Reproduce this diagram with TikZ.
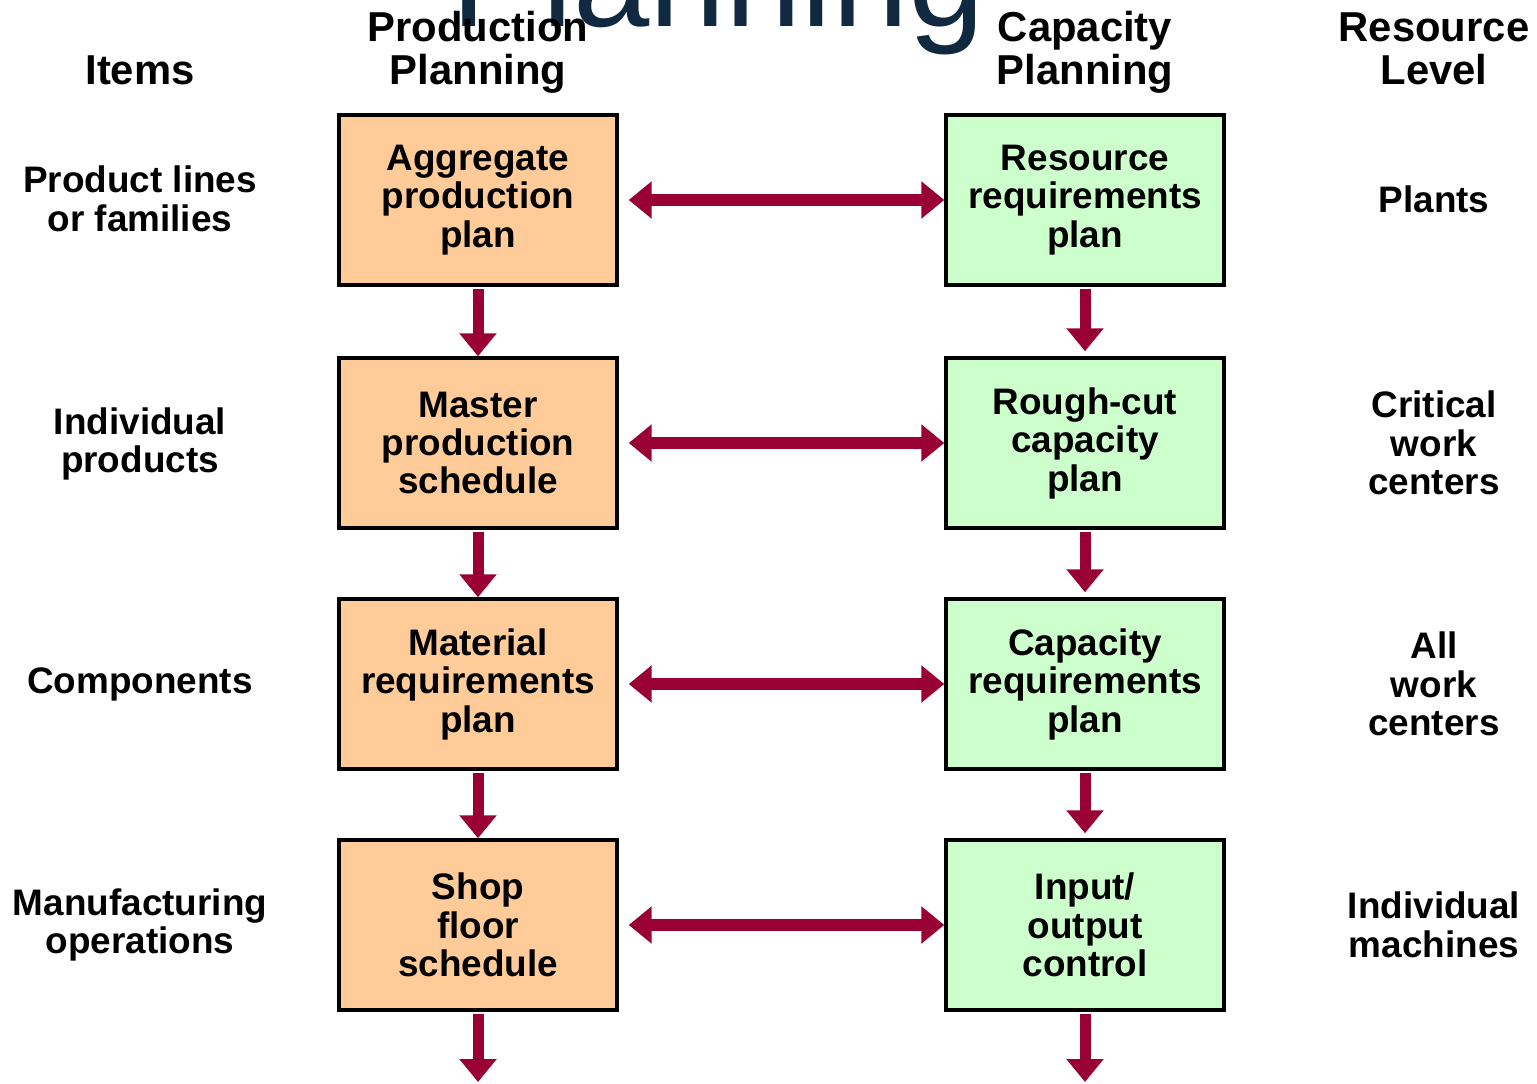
\documentclass[tikz,border=0pt]{standalone}
\usepackage{fontspec}
\setmainfont{Liberation Sans}
\usetikzlibrary{arrows.meta}
\definecolor{peach}{RGB}{255,204,153}
\definecolor{mint}{RGB}{204,255,204}
\definecolor{wine}{RGB}{153,0,51}
\definecolor{navy}{RGB}{16,40,64}

\begin{document}
\begin{tikzpicture}[x=0.02cm,y=-0.02cm,
    box/.style={draw=black,line width=0.07cm,minimum width=5.56cm,minimum height=3.4cm,
        inner sep=0pt,align=center,font=\fontsize{21}{21.9}\selectfont\bfseries},
    ppbox/.style={box,fill=peach},
    cpbox/.style={box,fill=mint},
    lbl/.style={align=center,inner sep=0pt,font=\fontsize{21}{21.9}\selectfont\bfseries},
    head/.style={align=center,inner sep=0pt,font=\fontsize{23.8}{24.4}\selectfont\bfseries},
    link/.style={wine,line width=0.24cm,{Triangle[length=0.46cm,width=0.72cm]}-{Triangle[length=0.46cm,width=0.72cm]},
        shorten <=0.2cm},
    flow/.style={wine,line width=0.22cm,-{Triangle[length=0.46cm,width=0.72cm]},shorten <=0.04cm}]
    \clip (0,0) rectangle (1537,1084);
    \node[navy,anchor=base,inner sep=0pt,font=\fontsize{78}{82}\selectfont] (title) at (718,27) {Planning};

    \node[head] (items) at (140,70) {Items};
    \node[head] (pphead) at (478,52) {Production\\Planning};
    \node[head] (cphead) at (1085,52) {Capacity\\Planning};
    \node[head] (rlhead) at (1434,49) {Resource\\Level};

    \node[ppbox] (app) at (478,200) {Aggregate\\production\\plan};
    \node[ppbox] (mps) at (478,443) {Master\\production\\schedule};
    \node[ppbox] (mrp) at (478,684) {Material\\requirements\\plan};
    \node[ppbox] (sfs) at (478,925) {Shop\\floor\\schedule};

    \node[cpbox] (rrp) at (1085,200) {Resource\\requirements\\plan};
    \node[cpbox] (rccp) at (1085,443) {Rough-cut\\capacity\\plan};
    \node[cpbox] (crp) at (1085,684) {Capacity\\requirements\\plan};
    \node[cpbox] (ioc) at (1085,925) {Input/\\output\\control};

    \node[lbl] (prod) at (140,199) {Product lines\\or families};
    \node[lbl] (indiv) at (140,444) {Individual\\products};
    \node[lbl] (comp) at (140,684) {Components};
    \node[lbl] (manuf) at (140,925) {Manufacturing\\operations};

    \node[lbl] (plants) at (1434,199) {Plants};
    \node[lbl] (critical) at (1434,443) {Critical\\work\\centers};
    \node[lbl] (allwc) at (1434,684) {All\\work\\centers};
    \node[lbl] (machines) at (1434,925) {Individual\\machines};

    \coordinate (ppend) at (478,1082);
    \coordinate (cpend) at (1085,1082);

    \foreach \a/\b in {app/rrp,mps/rccp,mrp/crp,sfs/ioc}
        \draw[link] (\a.east) -- (\b.west);
    \foreach \a/\b in {app/mps,mps/mrp,mrp/sfs}
        \draw[flow] (\a.south) -- (\b.north);
    \foreach \a/\b in {rrp/rccp,rccp/crp,crp/ioc}
        \draw[flow,shorten >=0.1cm] (\a.south) -- (\b.north);
    \draw[flow] (sfs.south) -- (ppend);
    \draw[flow] (ioc.south) -- (cpend);
\end{tikzpicture}
\end{document}
